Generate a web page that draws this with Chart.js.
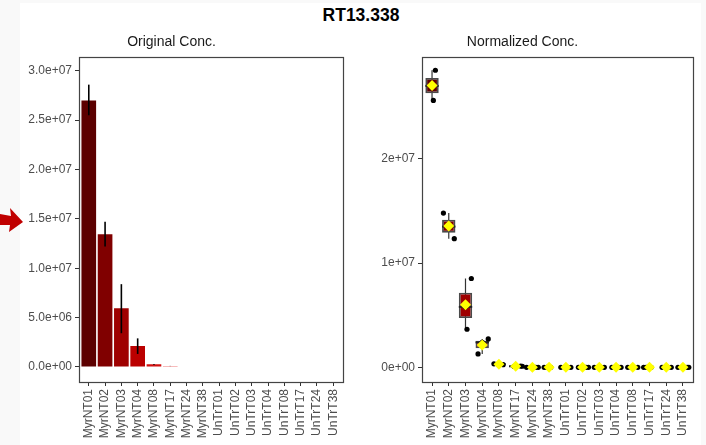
<!DOCTYPE html>
<html>
<head>
<meta charset="utf-8">
<script src="https://cdn.jsdelivr.net/npm/chart.js@4.4.0/dist/chart.umd.min.js"></script>
<style>
  html, body { margin: 0; padding: 0; }
  body { width: 706px; height: 445px; background: #f9f9f9; position: relative; overflow: hidden; font-family: "Liberation Sans", Arial, sans-serif; }
  #sheet { position: absolute; left: 20px; top: 3px; width: 681px; height: 442px; background: #fff; }
  #title { position: absolute; left: 0; top: 5px; width: 722px; text-align: center; font-weight: bold; font-size: 17.5px; color: #000; }
  .panel { position: absolute; top: 0; height: 445px; }
  #left { left: 0; width: 352px; }
  #right { left: 352px; width: 354px; }
  #arrow { position: absolute; left: 0; top: 205px; }
</style>
</head>
<body>
<div id="sheet"></div>
<div id="title">RT13.338</div>
<svg id="arrow" width="26" height="30"><polygon points="0,9 11,11 10,3 23,17 9,27 10,20 0,20" fill="#c00000"/></svg>
<div class="panel" id="left"><canvas id="origChart" width="352" height="445"></canvas></div>
<div class="panel" id="right"><canvas id="normChart" width="354" height="445"></canvas></div>
<script>
// samples on the x axis
const categories = ["MyrNT01", "MyrNT02", "MyrNT03", "MyrNT04", "MyrNT08", "MyrNT17", "MyrNT24", "MyrNT38",
  "UnTrT01", "UnTrT02", "UnTrT03", "UnTrT04", "UnTrT08", "UnTrT17", "UnTrT24", "UnTrT38"];

// Original Conc. : mean with error bar range
const origMean = [2.70e7, 1.345e7, 5.95e6, 2.13e6, 2.7e5, 1.0e5, 0, 0, 0, 0, 0, 0, 0, 0, 0, 0];
const origLow  = [2.55e7, 1.22e7, 3.42e6, 1.32e6, 2.3e5, 0.9e5, 0, 0, 0, 0, 0, 0, 0, 0, 0, 0];
const origHigh = [2.86e7, 1.47e7, 8.39e6, 2.90e6, 3.1e5, 1.1e5, 0, 0, 0, 0, 0, 0, 0, 0, 0, 0];
const origTicks = [0, 5e6, 1e7, 1.5e7, 2e7, 2.5e7, 3e7];

// Normalized Conc. : three replicates per sample
const normRep1 = [2.85e7, 1.48e7, 8.52e6, 2.72e6, 3.3e5, 1.2e5, 0, 0, 0, 0, 0, 0, 0, 0, 0, 0];
const normRep2 = [2.70e7, 1.35e7, 5.80e6, 2.39e6, 2.9e5, 1.0e5, 0, 0, 0, 0, 0, 0, 0, 0, 0, 0];
const normRep3 = [2.56e7, 1.234e7, 3.65e6, 1.28e6, 2.5e5, 0.8e5, 0, 0, 0, 0, 0, 0, 0, 0, 0, 0];
// horizontal jitter of each replicate point (category units)
const jitter1 = [0.20, -0.32, 0.35, 0.36, -0.30, 0.30, -0.35, -0.30, -0.30, 0.20, -0.30, -0.25, -0.30, -0.35, -0.25, -0.30];
const jitter2 = [0.00, 0.00, 0.00, 0.00, 0.05, 0.40, 0.20, -0.15, 0.10, 0.35, 0.30, 0.30, -0.10, -0.20, 0.30, 0.25];
const jitter3 = [0.08, 0.33, 0.09, -0.25, 0.25, -0.10, 0.35, 0.10, 0.30, -0.25, 0.10, 0.15, 0.30, 0.10, 0.10, 0.35];
const normTicks = [0, 1e7, 2e7];

const barColors = ["#5c0000", "#800000", "#9f0000", "#bb0000", "#d01010", "#f07878",
  "#f4a0a0", "#f4a0a0", "#f4a0a0", "#f4a0a0", "#f4a0a0", "#f4a0a0", "#f4a0a0", "#f4a0a0", "#f4a0a0", "#f4a0a0"];

const FONT = "'Liberation Sans', Arial, sans-serif";

function sci(v, digits) {
  return v.toExponential(digits).replace(/e([+-])(\d)$/, "e$10$2");
}

function quantile(vals, p) {
  const s = [...vals].sort((a, b) => a - b);
  const h = (s.length - 1) * p;
  const lo = Math.floor(h);
  return s[lo] + (h - lo) * ((s[lo + 1] ?? s[lo]) - s[lo]);
}

function xAxis() {
  return {
    type: "linear", min: -0.6, max: 15.6, offset: false,
    afterBuildTicks: s => { s.ticks = categories.map((c, i) => ({ value: i })); },
    ticks: { callback: v => categories[v], autoSkip: false, minRotation: 90, maxRotation: 90,
      color: "#4d4d4d", font: { size: 12, family: FONT }, padding: 3 },
    grid: { offset: false, drawOnChartArea: false, drawTicks: true, tickLength: 4, color: "#333" },
    border: { display: false },
    afterFit: s => { s.height = 63; }
  };
}

function yAxis(min, max, tickVals, digits, width) {
  return {
    min: min, max: max,
    afterBuildTicks: s => { s.ticks = tickVals.map(v => ({ value: v })); },
    ticks: { callback: v => sci(v, digits), color: "#4d4d4d", font: { size: 12, family: FONT }, padding: 3 },
    grid: { drawOnChartArea: false, drawTicks: true, tickLength: 4, color: "#333" },
    border: { display: false },
    afterFit: s => { s.width = width; }
  };
}

const panelBorder = {
  id: "panelBorder",
  afterDatasetsDraw(chart) {
    const a = chart.chartArea, ctx = chart.ctx;
    ctx.save();
    ctx.strokeStyle = "#444";
    ctx.lineWidth = 1.2;
    ctx.strokeRect(Math.round(a.left) + 0.5, Math.round(a.top) + 0.5, Math.round(a.right - a.left), Math.round(a.bottom - a.top));
    ctx.restore();
  }
};

function subtitle(text) {
  return { display: true, text: text, color: "#1a1a1a", font: { size: 14, weight: "normal", family: FONT },
    padding: { top: 34, bottom: 6 } };
}

// ---- Original Conc. ----
const errorBars = {
  id: "errorBars",
  afterDatasetsDraw(chart) {
    const meta = chart.getDatasetMeta(0), y = chart.scales.y, ctx = chart.ctx;
    ctx.save();
    ctx.strokeStyle = "#000";
    ctx.lineWidth = 1.6;
    origMean.forEach((m, i) => {
      if (origHigh[i] <= origLow[i]) return;
      const x = meta.data[i].x;
      ctx.beginPath();
      ctx.moveTo(x, y.getPixelForValue(origLow[i]));
      ctx.lineTo(x, y.getPixelForValue(origHigh[i]));
      ctx.stroke();
    });
    ctx.restore();
  }
};

new Chart(document.getElementById("origChart"), {
  type: "bar",
  data: {
    datasets: [{
      data: origMean.map((v, i) => ({ x: i, y: v })),
      backgroundColor: barColors,
      borderWidth: 0,
      barPercentage: 0.9,
      categoryPercentage: 1
    }]
  },
  options: {
    responsive: false,
    animation: false,
    layout: { padding: { top: 0, right: 9, bottom: 0, left: 0 } },
    plugins: { legend: { display: false }, tooltip: { enabled: false }, title: subtitle("Original Conc.") },
    scales: { x: xAxis(), y: yAxis(-1.52e6, 3.142e7, origTicks, 1, 79) }
  },
  plugins: [errorBars, panelBorder]
});

// ---- Normalized Conc. ----
const reps = [normRep1, normRep2, normRep3];
const jits = [jitter1, jitter2, jitter3];
const stats = categories.map((c, i) => {
  const v = reps.map(r => r[i]);
  return { min: Math.min(...v), max: Math.max(...v), q1: quantile(v, 0.25), med: quantile(v, 0.5), q3: quantile(v, 0.75),
    mean: v.reduce((a, b) => a + b, 0) / v.length };
});

const whiskers = {
  id: "whiskers",
  beforeDatasetsDraw(chart) {
    const x = chart.scales.x, y = chart.scales.y, ctx = chart.ctx;
    ctx.save();
    ctx.strokeStyle = "#333";
    ctx.lineWidth = 1.2;
    stats.forEach((s, i) => {
      if (s.max <= s.min) return;
      const px = x.getPixelForValue(i);
      ctx.beginPath();
      ctx.moveTo(px, y.getPixelForValue(s.min));
      ctx.lineTo(px, y.getPixelForValue(s.max));
      ctx.stroke();
    });
    ctx.restore();
  },
  afterDatasetDraw(chart, args) {
    if (args.index !== 2) return;
    const x = chart.scales.x, y = chart.scales.y, ctx = chart.ctx;
    ctx.save();
    ctx.strokeStyle = "#222";
    ctx.lineWidth = 2;
    stats.forEach((s, i) => {
      if (s.max <= s.min) return;
      const py = y.getPixelForValue(s.med);
      ctx.beginPath();
      ctx.moveTo(x.getPixelForValue(i - 0.4), py);
      ctx.lineTo(x.getPixelForValue(i + 0.4), py);
      ctx.stroke();
    });
    ctx.restore();
  }
};

const pointData = [];
reps.forEach((r, k) => r.forEach((v, i) => pointData.push({ x: i + jits[k][i], y: v })));

new Chart(document.getElementById("normChart"), {
  type: "bar",
  data: {
    datasets: [
      { type: "scatter", data: stats.map((s, i) => ({ x: i, y: s.mean })), pointStyle: "rectRot",
        pointRadius: 5.5, backgroundColor: "#ffff00", borderWidth: 0 },
      { type: "scatter", data: pointData, pointRadius: 2.6, backgroundColor: "#000", borderWidth: 0 },
      { type: "bar", data: stats.map((s, i) => ({ x: i, y: [s.q1, s.q3] })), backgroundColor: barColors,
        borderColor: "#4a4a4a", borderWidth: 1.8, borderSkipped: false, barPercentage: 0.8, categoryPercentage: 1 }
    ]
  },
  options: {
    responsive: false,
    animation: false,
    layout: { padding: { top: 0, right: 13, bottom: 0, left: 0 } },
    plugins: { legend: { display: false }, tooltip: { enabled: false }, title: subtitle("Normalized Conc.") },
    scales: { x: xAxis(), y: yAxis(-1.41e6, 2.979e7, normTicks, 0, 70) }
  },
  plugins: [whiskers, panelBorder]
});
</script>
</body>
</html>
